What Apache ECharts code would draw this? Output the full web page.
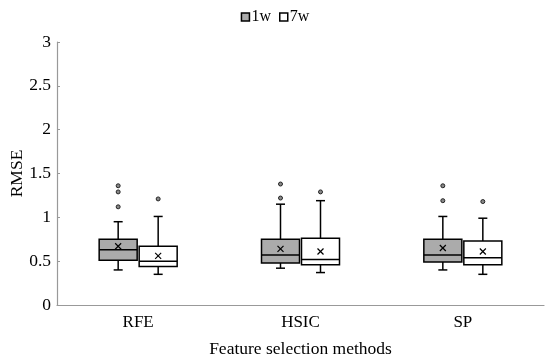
<!DOCTYPE html>
<html>
<head>
<meta charset="utf-8">
<script src="https://cdn.jsdelivr.net/npm/echarts@6/dist/echarts.min.js"></script>
<style>html,body{margin:0;padding:0;background:#fff}#c{width:550px;height:362px}</style>
</head>
<body>
<div id="c"></div>
<script>
var categories = ['RFE', 'HSIC', 'SP'];
var seriesNames = ['1w', '7w'];
// [low whisker, Q1, median, Q3, high whisker] per category
var box1w = [
  [0.40, 0.51, 0.63, 0.75, 0.95],
  [0.42, 0.48, 0.57, 0.75, 1.15],
  [0.40, 0.49, 0.57, 0.75, 1.01]
];
var box7w = [
  [0.35, 0.44, 0.50, 0.67, 1.01],
  [0.37, 0.46, 0.52, 0.76, 1.19],
  [0.35, 0.46, 0.54, 0.73, 0.99]
];
var mean1w = [0.67, 0.64, 0.65];
var mean7w = [0.56, 0.61, 0.61];
var outliers1w = [[1.36, 1.29, 1.12], [1.38, 1.22], [1.36, 1.19]];
var outliers7w = [[1.21], [1.29], [1.18]];
var yTicks = [0, 0.5, 1, 1.5, 2, 2.5, 3];

var FONT = "'Liberation Serif', 'Times New Roman', serif";
var fills = ['#ababab', '#ffffff'];
var offsets = [-20, 20];
var HALF = 19, CAP = 4.5;

function boxData(box, mean) {
  return box.map(function (b, i) { return [i, b[0], b[1], b[2], b[3], b[4], mean[i]]; });
}
function outData(outs) {
  var r = [];
  outs.forEach(function (arr, i) { arr.forEach(function (v) { r.push([i, v]); }); });
  return r;
}

function makeBoxRender(s) {
  return function (params, api) {
    var ci = api.value(0);
    var cx = api.coord([ci, 0])[0] + offsets[s];
    var y = function (k) { return api.coord([ci, api.value(k)])[1]; };
    var yl = y(1), q1 = y(2), md = y(3), q3 = y(4), yh = y(5), mn = y(6);
    var ls = { stroke: '#000', lineWidth: 1.5, fill: null };
    return {
      type: 'group',
      children: [
        { type: 'line', shape: { x1: cx, y1: yh, x2: cx, y2: q3 }, style: ls },
        { type: 'line', shape: { x1: cx, y1: q1, x2: cx, y2: yl }, style: ls },
        { type: 'line', shape: { x1: cx - CAP, y1: yh, x2: cx + CAP, y2: yh }, style: ls },
        { type: 'line', shape: { x1: cx - CAP, y1: yl, x2: cx + CAP, y2: yl }, style: ls },
        { type: 'rect', shape: { x: cx - HALF, y: q3, width: HALF * 2, height: q1 - q3 },
          style: { fill: fills[s], stroke: '#000', lineWidth: 1.5 } },
        { type: 'line', shape: { x1: cx - HALF, y1: md, x2: cx + HALF, y2: md }, style: ls },
        { type: 'line', shape: { x1: cx - 3, y1: mn - 3, x2: cx + 3, y2: mn + 3 }, style: { stroke: '#000', lineWidth: 1.2 } },
        { type: 'line', shape: { x1: cx - 3, y1: mn + 3, x2: cx + 3, y2: mn - 3 }, style: { stroke: '#000', lineWidth: 1.2 } }
      ]
    };
  };
}
function makeOutRender(s) {
  return function (params, api) {
    var ci = api.value(0);
    var p = api.coord([ci, api.value(1)]);
    return { type: 'circle', shape: { cx: p[0] + offsets[s], cy: p[1], r: 2 },
      style: { fill: '#888', stroke: '#222', lineWidth: 1 } };
  };
}

var chart = echarts.init(document.getElementById('c'), null, { renderer: 'canvas' });
chart.setOption({
  animation: false,
  textStyle: { fontFamily: FONT },
  legend: {
    top: 4, left: 'center', itemWidth: 8, itemHeight: 8, itemGap: 8,
    textStyle: { fontFamily: FONT, fontSize: 16, color: '#000', padding: [0, 0, 0, -3] },
    data: [
      { name: '1w', icon: 'rect', itemStyle: { color: fills[0], borderColor: '#000', borderWidth: 1.5 } },
      { name: '7w', icon: 'rect', itemStyle: { color: fills[1], borderColor: '#000', borderWidth: 1.5 } }
    ]
  },
  grid: { left: 57, right: 6, top: 42, bottom: 57, containLabel: false, outerBoundsMode: 'none' },
  xAxis: {
    type: 'category', data: categories,
    name: 'Feature selection methods', nameLocation: 'middle', nameGap: 35,
    nameTextStyle: { fontFamily: FONT, fontSize: 17.5, color: '#000' },
    axisLine: { lineStyle: { color: '#999', width: 1.2 } },
    axisTick: { show: false },
    axisLabel: { fontFamily: FONT, fontSize: 17, color: '#000', margin: 9 }
  },
  yAxis: {
    type: 'value', min: 0, max: 3, interval: 0.5,
    name: 'RMSE', nameLocation: 'middle', nameGap: 31, nameMoveOverlap: false,
    nameTextStyle: { fontFamily: FONT, fontSize: 17.5, color: '#000' },
    axisLine: { show: true, lineStyle: { color: '#999', width: 1.2 } },
    axisTick: { show: true, inside: true, length: 3, lineStyle: { color: '#999' } },
    splitLine: { show: false },
    axisLabel: { fontFamily: FONT, fontSize: 17.5, color: '#000', margin: 6,
      formatter: function (v) { return yTicks.indexOf(v) >= 0 ? String(v) : ''; } }
  },
  series: [
    { name: seriesNames[0], type: 'custom', renderItem: makeBoxRender(0), data: boxData(box1w, mean1w),
      encode: { x: 0, y: [1, 2, 3, 4, 5, 6] }, itemStyle: { color: fills[0] } },
    { name: seriesNames[1], type: 'custom', renderItem: makeBoxRender(1), data: boxData(box7w, mean7w),
      encode: { x: 0, y: [1, 2, 3, 4, 5, 6] }, itemStyle: { color: fills[1] } },
    { name: 'out1w', type: 'custom', renderItem: makeOutRender(0), data: outData(outliers1w), encode: { x: 0, y: 1 } },
    { name: 'out7w', type: 'custom', renderItem: makeOutRender(1), data: outData(outliers7w), encode: { x: 0, y: 1 } }
  ]
});
</script>
</body>
</html>
